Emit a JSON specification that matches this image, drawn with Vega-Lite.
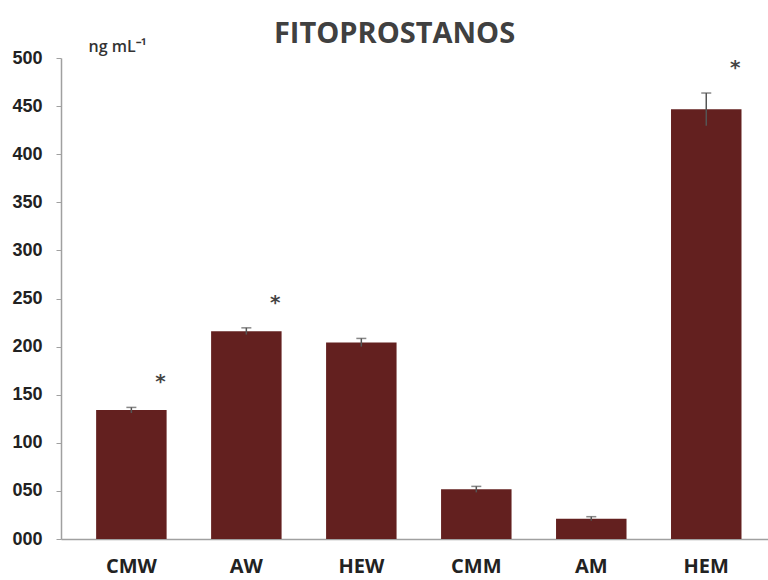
{
  "$schema": "https://vega.github.io/schema/vega-lite/v6.json",
  "autosize": {"type": "none"},
  "padding": {"left": 61, "top": 58, "right": 0, "bottom": 41},
  "width": 707,
  "height": 481,
  "background": "white",
  "title": {
    "text": "FITOPROSTANOS",
    "font": "Open Sans",
    "fontSize": 29,
    "fontWeight": "bold",
    "color": "#404040",
    "anchor": "middle",
    "dx": -20,
    "offset": -11
  },
  "config": {
    "view": {"stroke": null},
    "axis": {"grid": false}
  },
  "data": {
    "values": [
      {"group": "CMW", "mean": 134, "lo": 131, "hi": 136.8, "sig": "*"},
      {"group": "AW", "mean": 216, "lo": 212.5, "hi": 219.5, "sig": "*"},
      {"group": "HEW", "mean": 204.3, "lo": 200, "hi": 208.5, "sig": ""},
      {"group": "CMM", "mean": 51.6, "lo": 48.5, "hi": 54.7, "sig": ""},
      {"group": "AM", "mean": 21.1, "lo": 19, "hi": 23.2, "sig": ""},
      {"group": "HEM", "mean": 446.6, "lo": 429.6, "hi": 463.6, "sig": "*"}
    ]
  },
  "encoding": {
    "x": {
      "field": "group",
      "type": "nominal",
      "sort": null,
      "scale": {"paddingInner": 0.387, "paddingOuter": 0.268, "align": 0.57},
      "axis": {
        "title": null,
        "labelAngle": 0,
        "labelFont": "Open Sans",
        "labelFontWeight": "bold",
        "labelFontSize": 20,
        "labelColor": "#222222",
        "labelPadding": 17,
        "ticks": false,
        "domainColor": "#a0a0a0",
        "domainWidth": 1.5
      }
    }
  },
  "layer": [
    {
      "mark": {"type": "bar", "color": "#63201f"},
      "encoding": {
        "y": {
          "field": "mean",
          "type": "quantitative",
          "scale": {"domain": [0, 500], "nice": false},
          "axis": {
            "values": [0, 50, 100, 150, 200, 250, 300, 350, 400, 450, 500],
            "format": "03d",
            "labelFont": "Liberation Sans",
            "labelFontWeight": "bold",
            "labelFontSize": 18,
            "labelColor": "#222222",
            "labelPadding": 14,
            "tickSize": 5,
            "tickColor": "#a0a0a0",
            "domainColor": "#a0a0a0",
            "domainWidth": 1.5,
            "title": "ng mL⁻¹",
            "titleAngle": 0,
            "titleX": 27,
            "titleY": -7,
            "titleAlign": "left",
            "titleBaseline": "alphabetic",
            "titleFont": "Open Sans",
            "titleFontSize": 16,
            "titleFontWeight": 600,
            "titleColor": "#333333"
          }
        }
      }
    },
    {
      "mark": {"type": "rule", "color": "#555555", "strokeWidth": 1.5},
      "encoding": {
        "y": {"field": "lo", "type": "quantitative"},
        "y2": {"field": "hi"}
      }
    },
    {
      "mark": {"type": "tick", "color": "#555555", "size": 10, "thickness": 1.5, "orient": "horizontal"},
      "encoding": {
        "y": {"field": "hi", "type": "quantitative"}
      }
    },
    {
      "mark": {"type": "text", "font": "DejaVu Sans", "fontWeight": "bold", "fontSize": 20, "color": "#444444", "dx": 29, "dy": -25, "baseline": "middle"},
      "encoding": {
        "y": {"field": "hi", "type": "quantitative"},
        "text": {"field": "sig"}
      }
    }
  ]
}
